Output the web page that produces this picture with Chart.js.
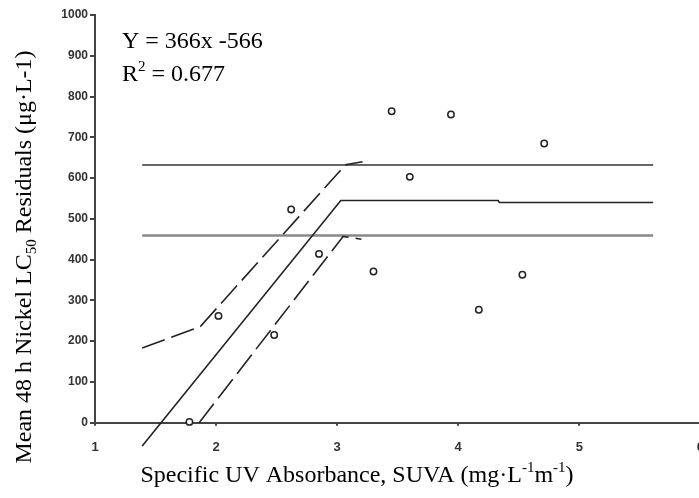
<!DOCTYPE html>
<html>
<head>
<meta charset="utf-8">
<script src="https://cdn.jsdelivr.net/npm/chart.js@4/dist/chart.umd.min.js"></script>
<style>
html,body{margin:0;padding:0;background:#fff;overflow:hidden;}
#wrap{width:699px;height:498px;overflow:hidden;position:relative;}
canvas{display:block;}
</style>
</head>
<body>
<div id="wrap"><canvas id="c" width="718" height="498"></canvas></div>
<script>
// ---- data ----
const suva      = [1.78, 2.02, 2.48, 2.62, 2.85, 3.30, 3.45, 3.60, 3.94, 4.17, 4.53, 4.71];
const residuals = [2, 262, 215, 523, 414, 371, 764, 603, 756, 277, 363, 685];

const fitX      = [1.39, 3.03, 4.33, 4.34, 5.61];
const fitY      = [-57, 545, 545, 540, 540];

const upperCiX  = [1.39, 1.87, 3.07, 3.21];
const upperCiY  = [183, 236, 633, 640];
const lowerCiX  = [1.86, 3.05, 3.20];
const lowerCiY  = [0, 457, 450];

const upperBandX = [1.39, 5.61];
const upperBandY = [632, 632];
const lowerBandX = [1.39, 5.61];
const lowerBandY = [459, 459];

const xTicks = [1, 2, 3, 4, 5, 6];
const yTicks = [0, 100, 200, 300, 400, 500, 600, 700, 800, 900, 1000];

const eqText = 'Y = 366x -566';
const r2Text = '0.677';

const pts = (xs, ys) => xs.map((x, i) => ({x, y: ys[i]}));

const SERIF = '"Liberation Serif", "Times New Roman", serif';

function richWidth(ctx, segs) {
  let w = 0;
  for (const s of segs) { ctx.font = (s.s || 24) + 'px ' + SERIF; w += ctx.measureText(s.t).width; }
  return w;
}
function drawRich(ctx, segs, x, y) {
  let cx = x;
  for (const s of segs) {
    ctx.font = (s.s || 24) + 'px ' + SERIF;
    ctx.fillText(s.t, cx, y + (s.dy || 0));
    cx += ctx.measureText(s.t).width;
  }
}

const textPlugin = {
  id: 'texts',
  afterDraw(chart) {
    const ctx = chart.ctx;
    ctx.save();
    ctx.fillStyle = '#000';
    ctx.textBaseline = 'alphabetic';
    ctx.textAlign = 'left';
    // annotation
    drawRich(ctx, [{t: eqText}], 122, 48);
    drawRich(ctx, [{t: 'R'}, {t: '2', s: 15, dy: -10}, {t: ' = ' + r2Text}], 122, 81);
    // x title
    const xs = [{t: 'Specific UV Absorbance, SUVA (mg\u00B7L'}, {t: '-1', s: 15, dy: -10}, {t: 'm'}, {t: '-1', s: 15, dy: -10}, {t: ')'}];
    const xw = richWidth(ctx, xs);
    drawRich(ctx, xs, 357 - xw / 2, 482);
    // y title
    const ys = [{t: 'Mean 48 h Nickel LC'}, {t: '50', s: 15, dy: 5}, {t: ' Residuals (\u03BCg\u00B7L-1)'}];
    const yw = richWidth(ctx, ys);
    ctx.translate(31, 257);
    ctx.rotate(-Math.PI / 2);
    drawRich(ctx, ys, -yw / 2, 0);
    ctx.restore();
  }
};

const lineDs = (data, color, width, dash) => ({
  type: 'line', data, borderColor: color, borderWidth: width, borderDash: dash || [],
  pointRadius: 0, fill: false, tension: 0, clip: false, showLine: true
});

new Chart(document.getElementById('c'), {
  type: 'scatter',
  data: {
    datasets: [
      { data: pts(suva, residuals), pointRadius: 3.2, pointBorderWidth: 1.5,
        pointBorderColor: '#222', pointBackgroundColor: '#fff', clip: false, showLine: false },
      lineDs(pts(fitX, fitY), '#222', 1.6),
      lineDs(pts(upperCiX, upperCiY), '#222', 1.6, [24, 7]),
      lineDs(pts(lowerCiX, lowerCiY), '#222', 1.6, [24, 7]),
      lineDs(pts(upperBandX, upperBandY), '#666', 2),
      lineDs(pts(lowerBandX, lowerBandY), '#888', 2.5)
    ]
  },
  options: {
    responsive: false,
    animation: false,
    devicePixelRatio: 1,
    layout: { padding: { top: 15, left: 0, right: 0, bottom: 0 } },
    plugins: { legend: { display: false }, tooltip: { enabled: false } },
    scales: {
      x: {
        type: 'linear', position: 'bottom', min: 1, max: 6,
        afterBuildTicks: s => { s.ticks = xTicks.map(v => ({value: v})); },
        afterFit: s => { s.height = 75.3; },
        ticks: { color: '#333', font: { family: '"Liberation Sans", Arial, sans-serif', size: 13, weight: 'bold' }, padding: 14,
                 callback: v => String(v) },
        grid: { drawOnChartArea: false, drawTicks: true, tickLength: 3, color: '#444', lineWidth: 2 },
        border: { display: true, color: '#444', width: 2 },
        title: { display: false }
      },
      y: {
        type: 'linear', min: 0, max: 1000,
        afterBuildTicks: s => { s.ticks = yTicks.map(v => ({value: v})); },
        afterFit: s => { s.width = 95; },
        ticks: { color: '#333', font: { family: '"Liberation Sans", Arial, sans-serif', size: 12, weight: 'bold' }, padding: 2,
                 callback: v => String(v) },
        grid: { drawOnChartArea: false, drawTicks: true, tickLength: 5, color: '#444', lineWidth: 2 },
        border: { display: true, color: '#444', width: 2 },
        title: { display: false }
      }
    }
  },
  plugins: [textPlugin]
});
</script>
</body>
</html>
